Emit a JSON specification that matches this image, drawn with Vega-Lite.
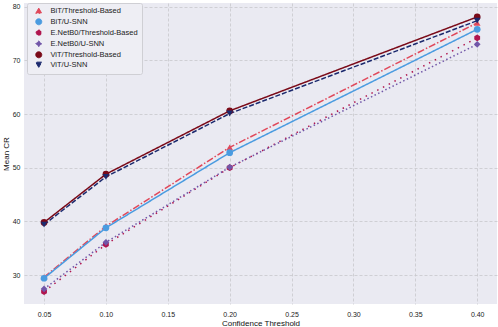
{
  "$schema": "https://vega.github.io/schema/vega-lite/v6.json",
  "autosize": "none",
  "width": 473,
  "height": 301,
  "padding": {"left": 24, "top": 3, "right": 1, "bottom": 23},
  "background": "white",
  "config": {
    "view": {"fill": "#EAEAF2", "stroke": null},
    "font": "Liberation Sans",
    "axis": {
      "grid": true, "gridColor": "#c8c8cc", "gridDash": [3, 2], "gridWidth": 0.8,
      "domain": false, "ticks": false, "labelFontSize": 7, "labelColor": "#222",
      "titleFontSize": 8, "titleFontWeight": "normal", "titleColor": "#111"
    }
  },
  "data": {
    "values": [
      {"model": "BiT/Threshold-Based", "t": 0.05, "cr": 29.6},
      {"model": "BiT/Threshold-Based", "t": 0.10, "cr": 39.1},
      {"model": "BiT/Threshold-Based", "t": 0.20, "cr": 53.8},
      {"model": "BiT/Threshold-Based", "t": 0.40, "cr": 77.0},
      {"model": "BiT/U-SNN", "t": 0.05, "cr": 29.4},
      {"model": "BiT/U-SNN", "t": 0.10, "cr": 38.8},
      {"model": "BiT/U-SNN", "t": 0.20, "cr": 52.8},
      {"model": "BiT/U-SNN", "t": 0.40, "cr": 75.8},
      {"model": "E.NetB0/Threshold-Based", "t": 0.05, "cr": 26.9},
      {"model": "E.NetB0/Threshold-Based", "t": 0.10, "cr": 35.7},
      {"model": "E.NetB0/Threshold-Based", "t": 0.20, "cr": 50.0},
      {"model": "E.NetB0/Threshold-Based", "t": 0.40, "cr": 74.2},
      {"model": "E.NetB0/U-SNN", "t": 0.05, "cr": 27.4},
      {"model": "E.NetB0/U-SNN", "t": 0.10, "cr": 36.1},
      {"model": "E.NetB0/U-SNN", "t": 0.20, "cr": 50.1},
      {"model": "E.NetB0/U-SNN", "t": 0.40, "cr": 73.0},
      {"model": "ViT/Threshold-Based", "t": 0.05, "cr": 39.8},
      {"model": "ViT/Threshold-Based", "t": 0.10, "cr": 48.8},
      {"model": "ViT/Threshold-Based", "t": 0.20, "cr": 60.6},
      {"model": "ViT/Threshold-Based", "t": 0.40, "cr": 78.1},
      {"model": "ViT/U-SNN", "t": 0.05, "cr": 39.4},
      {"model": "ViT/U-SNN", "t": 0.10, "cr": 48.3},
      {"model": "ViT/U-SNN", "t": 0.20, "cr": 60.1},
      {"model": "ViT/U-SNN", "t": 0.40, "cr": 77.4}
    ]
  },
  "encoding": {
    "x": {
      "field": "t", "type": "quantitative", "title": "Confidence Threshold",
      "scale": {"domain": [0.0338, 0.416], "nice": false, "zero": false},
      "axis": {"values": [0.05, 0.1, 0.15, 0.2, 0.25, 0.3, 0.35, 0.4], "format": ".2f", "labelPadding": 6, "titlePadding": 2}
    },
    "y": {
      "field": "cr", "type": "quantitative", "title": "Mean CR",
      "scale": {"domain": [24.6, 80.7], "nice": false, "zero": false},
      "axis": {"values": [30, 40, 50, 60, 70, 80], "labelPadding": 4, "titlePadding": 2}
    },
    "color": {
      "field": "model", "type": "nominal",
      "scale": {
        "domain": ["BiT/Threshold-Based", "BiT/U-SNN", "E.NetB0/Threshold-Based", "E.NetB0/U-SNN", "ViT/Threshold-Based", "ViT/U-SNN"],
        "range": ["#e0485a", "#4a9be0", "#b0154e", "#7156a8", "#7a0a18", "#1c2a6e"]
      },
      "legend": {
        "title": null, "orient": "none", "legendX": 3, "legendY": 0,
        "fillColor": "#EEEEF4", "strokeColor": "#cfcfd4", "padding": 4, "cornerRadius": 2,
        "labelFontSize": 7.5, "labelColor": "#222", "symbolSize": 36, "rowPadding": 0,
        "symbolStrokeWidth": 1, "labelOffset": 8, "symbolOffset": 4
      }
    }
  },
  "layer": [
    {
      "mark": {"type": "line", "strokeWidth": 1.5},
      "encoding": {
        "strokeDash": {
          "field": "model", "type": "nominal",
          "scale": {
            "domain": ["BiT/Threshold-Based", "BiT/U-SNN", "E.NetB0/Threshold-Based", "E.NetB0/U-SNN", "ViT/Threshold-Based", "ViT/U-SNN"],
            "range": [[7, 2, 1.5, 2], [1, 0], [1.5, 5], [1.5, 2.5], [1, 0], [5, 2]]
          },
          "legend": null
        }
      }
    },
    {
      "mark": {"type": "point", "filled": true, "opacity": 1, "size": 45},
      "encoding": {
        "shape": {
          "field": "model", "type": "nominal",
          "scale": {
            "domain": ["BiT/Threshold-Based", "BiT/U-SNN", "E.NetB0/Threshold-Based", "E.NetB0/U-SNN", "ViT/Threshold-Based", "ViT/U-SNN"],
            "range": ["triangle-up", "circle", "M0,-1L0.866,-0.5L0.866,0.5L0,1L-0.866,0.5L-0.866,-0.5Z", "diamond", "circle", "triangle-down"]
          }
        }
      }
    }
  ]
}
